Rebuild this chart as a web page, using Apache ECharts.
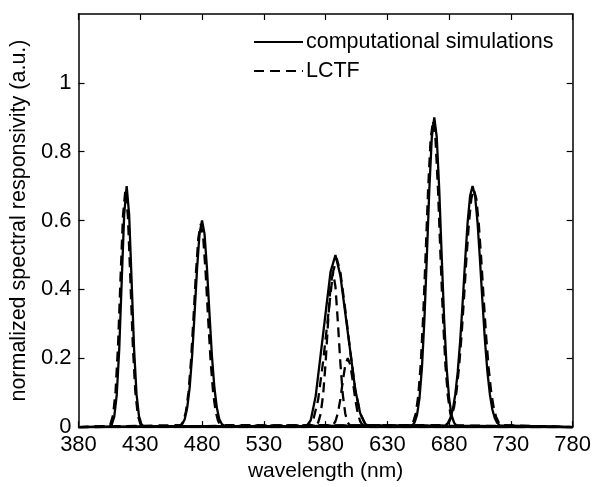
<!DOCTYPE html>
<html>
<head>
<meta charset="utf-8">
<script src="https://cdn.jsdelivr.net/npm/echarts@6/dist/echarts.min.js"></script>
<style>html,body{margin:0;padding:0;background:#fff}#c{width:594px;height:487px}</style>
</head>
<body>
<div id="c"></div>
<script>
// ---- axis ticks ----
const xTicks = [380, 430, 480, 530, 580, 630, 680, 730, 780];
const yTicks = [0, 0.2, 0.4, 0.6, 0.8, 1];

// ---- computational simulations (solid) ----
const simWl1 = [380, 405, 407, 409, 411, 413, 415, 417, 419, 421, 423, 425, 427, 429, 431, 433, 780];
const simV1  = [0, 0.001, 0.008, 0.031, 0.095, 0.227, 0.425, 0.618, 0.70, 0.618, 0.425, 0.227, 0.095, 0.031, 0.008, 0.001, 0];
const simWl2 = [380, 462, 464, 466, 468, 470, 472, 474, 476, 478, 480, 482, 484, 486, 488, 490, 492, 494, 496, 498, 780];
const simV2  = [0, 0.003, 0.009, 0.023, 0.056, 0.115, 0.208, 0.331, 0.461, 0.562, 0.60, 0.562, 0.461, 0.331, 0.208, 0.115, 0.056, 0.023, 0.009, 0.003, 0];
const simWl3 = [380, 564, 568, 572, 576, 580, 584, 588, 592, 596, 600, 604, 608, 612, 616, 780];
const simV3  = [0, 0.00, 0.02, 0.09, 0.21, 0.33, 0.45, 0.50, 0.44, 0.33, 0.22, 0.11, 0.04, 0.01, 0.00, 0];
const simWl4 = [380, 650, 652, 654, 656, 658, 660, 662, 664, 666, 668, 670, 672, 674, 676, 678, 680, 682, 684, 686, 780];
const simV4  = [0, 0.004, 0.013, 0.035, 0.083, 0.172, 0.312, 0.497, 0.691, 0.842, 0.90, 0.842, 0.691, 0.497, 0.312, 0.172, 0.083, 0.035, 0.013, 0.004, 0];
const simWl5 = [380, 677, 679, 681, 683, 685, 687, 689, 691, 693, 695, 697, 699, 701, 703, 705, 707, 709, 711, 713, 715, 717, 719, 721, 780];
const simV5  = [0, 0.005, 0.012, 0.026, 0.051, 0.095, 0.161, 0.252, 0.364, 0.485, 0.595, 0.672, 0.70, 0.672, 0.595, 0.485, 0.364, 0.252, 0.161, 0.095, 0.051, 0.026, 0.012, 0.005, 0];

// ---- LCTF (dashed) ----
const lctfWl1 = [380, 404, 406, 408, 410, 412, 414, 416, 418, 420, 422, 424, 426, 428, 430, 432, 780];
const lctfV1  = [0, 0.002, 0.010, 0.035, 0.103, 0.236, 0.429, 0.613, 0.69, 0.613, 0.429, 0.236, 0.103, 0.035, 0.010, 0.002, 0];
const lctfWl2 = [380, 463, 465, 467, 469, 471, 473, 475, 477, 479, 481, 483, 485, 487, 489, 491, 493, 495, 780];
const lctfV2  = [0, 0.006, 0.018, 0.046, 0.100, 0.189, 0.311, 0.444, 0.549, 0.59, 0.549, 0.444, 0.311, 0.189, 0.100, 0.046, 0.018, 0.006, 0];
const lctfWl3 = [380, 566, 570, 574, 578, 582, 586, 589, 592, 596, 600, 604, 608, 612, 616, 780];
const lctfV3  = [0, 0.00, 0.02, 0.08, 0.19, 0.32, 0.45, 0.49, 0.45, 0.34, 0.22, 0.11, 0.04, 0.01, 0.00, 0];
const lctfWl4 = [380, 572, 574, 576, 578, 580, 582, 584, 586, 588, 590, 592, 594, 596, 598, 600, 780];
const lctfV4  = [0, 0.004, 0.013, 0.038, 0.093, 0.185, 0.303, 0.408, 0.45, 0.408, 0.303, 0.185, 0.093, 0.038, 0.013, 0.004, 0];
const lctfWl5 = [380, 586, 588, 590, 592, 594, 596, 598, 600, 602, 604, 606, 608, 610, 780];
const lctfV5  = [0, 0.006, 0.017, 0.041, 0.082, 0.135, 0.181, 0.20, 0.181, 0.135, 0.082, 0.041, 0.017, 0.006, 0];
const lctfWl6 = [380, 649, 651, 653, 655, 657, 659, 661, 663, 665, 667, 669, 671, 673, 675, 677, 679, 681, 683, 685, 780];
const lctfV6  = [0, 0.005, 0.015, 0.039, 0.090, 0.181, 0.321, 0.501, 0.690, 0.835, 0.89, 0.835, 0.690, 0.501, 0.321, 0.181, 0.090, 0.039, 0.015, 0.005, 0];
const lctfWl7 = [380, 678, 680, 682, 684, 686, 688, 690, 692, 694, 696, 698, 700, 702, 704, 706, 708, 710, 712, 714, 716, 718, 720, 722, 780];
const lctfV7  = [0, 0.006, 0.015, 0.030, 0.058, 0.104, 0.172, 0.263, 0.372, 0.488, 0.591, 0.664, 0.69, 0.664, 0.591, 0.488, 0.372, 0.263, 0.172, 0.104, 0.058, 0.030, 0.015, 0.006, 0];

const SIM = 'computational simulations';
const LCTF = 'LCTF';
const FONT = 'Liberation Sans, Arial, Helvetica, sans-serif';

function zip(a, b) { return a.map((w, i) => [w, b[i]]); }
function mk(name, wl, v, dashed) {
  return {
    name: name, type: 'line', data: zip(wl, v), showSymbol: false, symbol: 'none',
    smooth: false, silent: true, animation: false,
    lineStyle: { color: '#000', width: 2.3, type: dashed ? [10, 6] : 'solid' },
    itemStyle: { color: '#000' }
  };
}

const series = [
  mk(SIM, simWl1, simV1, false), mk(SIM, simWl2, simV2, false), mk(SIM, simWl3, simV3, false),
  mk(SIM, simWl4, simV4, false), mk(SIM, simWl5, simV5, false),
  mk(LCTF, lctfWl1, lctfV1, true), mk(LCTF, lctfWl2, lctfV2, true), mk(LCTF, lctfWl3, lctfV3, true),
  mk(LCTF, lctfWl4, lctfV4, true), mk(LCTF, lctfWl5, lctfV5, true), mk(LCTF, lctfWl6, lctfV6, true),
  mk(LCTF, lctfWl7, lctfV7, true)
];

const axLine = { show: true, onZero: false, lineStyle: { color: '#000', width: 1.5 } };
const chart = echarts.init(document.getElementById('c'), null, { renderer: 'canvas' });
chart.setOption({
  animation: false,
  backgroundColor: '#fff',
  grid: { left: 75, right: 19, top: 14, bottom: 54, containLabel: false },
  legend: {
    data: [SIM, LCTF], orient: 'vertical', left: 253, top: 31, padding: 0,
    itemWidth: 49, itemHeight: 14, itemGap: 7, selectedMode: false,
    itemStyle: { opacity: 0 },
    lineStyle: { width: 2 },
    textStyle: { fontFamily: FONT, fontSize: 21.5, color: '#000', lineHeight: 22, padding: [0, 0, 0, -2] }
  },
  xAxis: [
    { type: 'value', min: 380, max: 780, position: 'bottom',
      name: 'wavelength (nm)', nameLocation: 'middle', nameGap: 24,
      nameTextStyle: { fontFamily: FONT, fontSize: 21, color: '#000' },
      axisLine: axLine,
      axisTick: { show: true, inside: true, length: 6, customValues: xTicks, lineStyle: { color: '#000', width: 1.2 } },
      axisLabel: { customValues: xTicks, margin: 7, fontFamily: FONT, fontSize: 22, color: '#000' },
      splitLine: { show: false } },
    { type: 'value', min: 380, max: 780, position: 'top',
      axisLine: axLine,
      axisTick: { show: true, inside: true, length: 6, customValues: xTicks, lineStyle: { color: '#000', width: 1.2 } },
      axisLabel: { show: false }, splitLine: { show: false } }
  ],
  yAxis: [
    { type: 'value', min: 0, max: 1.2, interval: 0.2, position: 'left',
      name: 'normalized spectral responsivity (a.u.)', nameLocation: 'middle', nameGap: 36,
      nameTextStyle: { fontFamily: FONT, fontSize: 21.5, color: '#000' },
      axisLine: axLine,
      axisTick: { show: true, inside: true, length: 6, customValues: yTicks, lineStyle: { color: '#000', width: 1.2 } },
      axisLabel: { customValues: yTicks, margin: 7, fontFamily: FONT, fontSize: 22, color: '#000' },
      splitLine: { show: false } },
    { type: 'value', min: 0, max: 1.2, interval: 0.2, position: 'right',
      axisLine: axLine,
      axisTick: { show: true, inside: true, length: 6, customValues: yTicks, lineStyle: { color: '#000', width: 1.2 } },
      axisLabel: { show: false }, splitLine: { show: false } }
  ],
  series: series
});
</script>
</body>
</html>
